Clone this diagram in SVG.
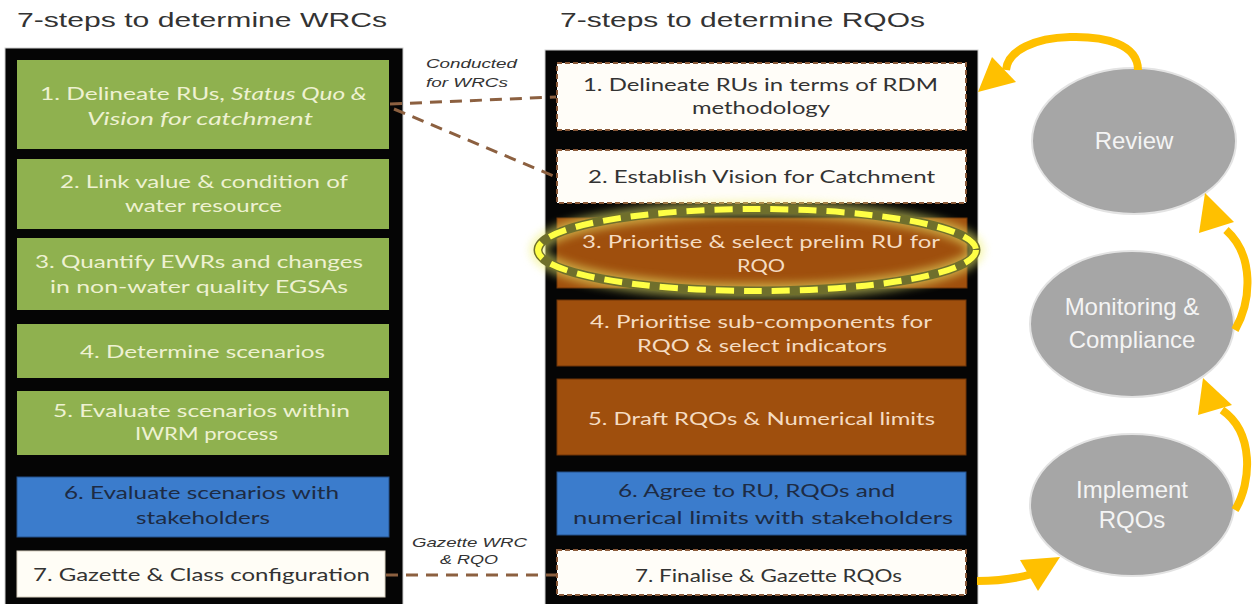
<svg xmlns="http://www.w3.org/2000/svg" width="1254" height="604" viewBox="0 0 1254 604">
<style>
.title{font-family:"Liberation Sans",Arial,sans-serif;font-size:20px;fill:#333333}
.bt{font-family:Lato,"Open Sans",sans-serif;font-size:17px;text-anchor:start}
.gt{fill:#eef1d2}
.brt{fill:#f5dcc2}
.dt{fill:#333333}
.blt{fill:#1d2b44}
.green{fill:#8fb14f}
.brown{fill:#9f4f0d;stroke:#6e3508;stroke-width:1}
.blue{fill:#3b7ccc;stroke:#24508a;stroke-width:1}
.white{fill:#fffdf8;stroke:#8a5a3a;stroke-width:2;stroke-dasharray:5 3}
.panel{fill:#050505;stroke:#cfcfcf;stroke-width:1}
.lbl{font-family:"Liberation Sans",Arial,sans-serif;font-size:13px;font-style:italic;fill:#333333}
.dash{stroke:#8c6040;stroke-width:3;stroke-dasharray:12 8;fill:none}
.circ{fill:#a6a6a6;stroke:#e3e3e3;stroke-width:2}
.ct{font-family:"Liberation Sans",Arial,sans-serif;font-size:24px;fill:#f4f4f4;text-anchor:middle}
.arr{stroke:#ffc000;stroke-width:8;fill:none}
.head{fill:#ffc000}
</style>
<defs>
<filter id="glow" x="-20%" y="-50%" width="140%" height="200%"><feGaussianBlur stdDeviation="4"/></filter>
</defs>
<rect width="1254" height="604" fill="#ffffff"/>

<g id="titles">
<text class="title" x="17" y="27" textLength="370" lengthAdjust="spacingAndGlyphs">7-steps to determine  WRCs</text>
<text class="title" x="560" y="27" textLength="365" lengthAdjust="spacingAndGlyphs">7-steps to determine  RQOs</text>
</g>

<g id="panel-wrc"><rect class="panel" x="5" y="48" width="398" height="560"/></g>
<g id="panel-rqo"><rect class="panel" x="545" y="50" width="433" height="560"/></g>

<g id="wrc1"><rect class="green" x="17" y="60" width="372" height="89"/>
<text class="bt gt" x="40" y="100" textLength="327" lengthAdjust="spacingAndGlyphs">1. Delineate RUs, <tspan font-style="italic">Status Quo &amp;</tspan></text>
<text class="bt gt" x="87" y="125" font-style="italic" textLength="226" lengthAdjust="spacingAndGlyphs">Vision for catchment</text></g>
<g id="wrc2"><rect class="green" x="17" y="159" width="372" height="70"/>
<text class="bt gt" x="60" y="188" textLength="288" lengthAdjust="spacingAndGlyphs">2. Link value &amp; condition of</text>
<text class="bt gt" x="125" y="212" textLength="157" lengthAdjust="spacingAndGlyphs">water resource</text></g>
<g id="wrc3"><rect class="green" x="17" y="238" width="372" height="72"/>
<text class="bt gt" x="35" y="268" textLength="328" lengthAdjust="spacingAndGlyphs">3. Quantify EWRs and changes</text>
<text class="bt gt" x="50" y="293" textLength="298" lengthAdjust="spacingAndGlyphs">in non-water quality EGSAs</text></g>
<g id="wrc4"><rect class="green" x="17" y="324" width="372" height="54"/>
<text class="bt gt" x="80" y="358" textLength="245" lengthAdjust="spacingAndGlyphs">4. Determine scenarios</text></g>
<g id="wrc5"><rect class="green" x="17" y="391" width="372" height="64"/>
<text class="bt gt" x="53" y="417" textLength="297" lengthAdjust="spacingAndGlyphs">5. Evaluate scenarios within</text>
<text class="bt gt" x="135" y="440" textLength="143" lengthAdjust="spacingAndGlyphs">IWRM process</text></g>
<g id="wrc6"><rect class="blue" x="17" y="477" width="372" height="60"/>
<text class="bt blt" x="64" y="499" textLength="275" lengthAdjust="spacingAndGlyphs">6. Evaluate scenarios with</text>
<text class="bt blt" x="136" y="524" textLength="134" lengthAdjust="spacingAndGlyphs">stakeholders</text></g>
<g id="wrc7"><rect x="17" y="551" width="368" height="46" fill="#fffdf6" stroke="#d8d0c0" stroke-width="1"/>
<text class="bt dt" x="33" y="581" textLength="337" lengthAdjust="spacingAndGlyphs">7. Gazette &amp; Class configuration</text></g>

<g id="rqo1"><rect class="white" x="557" y="63" width="409" height="67"/>
<text class="bt dt" x="583" y="91" textLength="355" lengthAdjust="spacingAndGlyphs">1. Delineate RUs in terms of RDM</text>
<text class="bt dt" x="692" y="114" textLength="138" lengthAdjust="spacingAndGlyphs">methodology</text></g>
<g id="rqo2"><rect class="white" x="557" y="150" width="409" height="53"/>
<text class="bt dt" x="588" y="183" textLength="347" lengthAdjust="spacingAndGlyphs">2. Establish Vision for Catchment</text></g>
<g id="rqo3"><rect class="brown" x="557" y="218" width="410" height="70"/>
<g id="highlight">
<ellipse cx="757" cy="250" rx="219" ry="41" fill="none" stroke="#f0f070" stroke-width="16" opacity="0.55" filter="url(#glow)"/>
<ellipse cx="757" cy="250" rx="219" ry="41" fill="none" stroke="#6f6f2c" stroke-width="9"/>
<ellipse cx="757" cy="250" rx="219" ry="41" fill="none" stroke="#ffff45" stroke-width="6" stroke-dasharray="18 10"/>
</g>
<text class="bt brt" x="582" y="248" textLength="358" lengthAdjust="spacingAndGlyphs">3. Prioritise &amp; select prelim RU for</text>
<text class="bt brt" x="737" y="272" textLength="48" lengthAdjust="spacingAndGlyphs">RQO</text></g>
<g id="rqo4"><rect class="brown" x="557" y="300" width="409" height="66"/>
<text class="bt brt" x="590" y="328" textLength="342" lengthAdjust="spacingAndGlyphs">4. Prioritise sub-components for</text>
<text class="bt brt" x="637" y="352" textLength="250" lengthAdjust="spacingAndGlyphs">RQO &amp; select indicators</text></g>
<g id="rqo5"><rect class="brown" x="557" y="379" width="409" height="76"/>
<text class="bt brt" x="588" y="425" textLength="347" lengthAdjust="spacingAndGlyphs">5. Draft RQOs &amp; Numerical limits</text></g>
<g id="rqo6"><rect class="blue" x="557" y="472" width="409" height="63"/>
<text class="bt blt" x="618" y="497" textLength="277" lengthAdjust="spacingAndGlyphs">6. Agree to RU, RQOs and</text>
<text class="bt blt" x="573" y="524" textLength="380" lengthAdjust="spacingAndGlyphs">numerical limits with stakeholders</text></g>
<g id="rqo7"><rect class="white" x="557" y="550" width="409" height="45"/>
<text class="bt dt" x="635" y="582" textLength="267" lengthAdjust="spacingAndGlyphs">7. Finalise &amp; Gazette RQOs</text></g>

<g id="review"><ellipse class="circ" cx="1134" cy="141" rx="102" ry="73"/>
<text class="ct" x="1134" y="149">Review</text></g>
<g id="monitoring"><ellipse class="circ" cx="1132" cy="324" rx="102" ry="73"/>
<text class="ct" x="1132" y="315">Monitoring &amp;</text>
<text class="ct" x="1132" y="348">Compliance</text></g>
<g id="implement"><ellipse class="circ" cx="1132" cy="505" rx="102" ry="71"/>
<text class="ct" x="1132" y="498">Implement</text>
<text class="ct" x="1132" y="528">RQOs</text></g>

<g id="connectors">
<path class="dash" d="M390,104 L556,97"/>
<path class="dash" d="M394,109 L556,177"/>
<path class="dash" d="M386,575 L556,575"/>
<text class="lbl" x="426" y="68" textLength="91" lengthAdjust="spacingAndGlyphs">Conducted</text>
<text class="lbl" x="426" y="87" textLength="82" lengthAdjust="spacingAndGlyphs">for WRCs</text>
<text class="lbl" x="412" y="547" textLength="115" lengthAdjust="spacingAndGlyphs">Gazette WRC</text>
<text class="lbl" x="440" y="564" textLength="58" lengthAdjust="spacingAndGlyphs">&amp; RQO</text>

<path class="arr" d="M1138,70 C1138,44 1105,36 1070,37 C1035,38 1008,50 1006,70"/>
<polygon class="head" points="978,92 992,57 1016,82"/>
<path class="arr" d="M1235,330 C1252,300 1254,255 1226,230"/>
<polygon class="head" points="1205,193 1199,233 1234,222"/>
<path class="arr" d="M1235,510 C1252,482 1254,432 1222,410"/>
<polygon class="head" points="1203,378 1198,415 1232,405"/>
<path class="arr" d="M977,581 C1000,581 1015,579 1032,574"/>
<polygon class="head" points="1060,557 1020,560 1038,591"/>
</g>
</svg>
